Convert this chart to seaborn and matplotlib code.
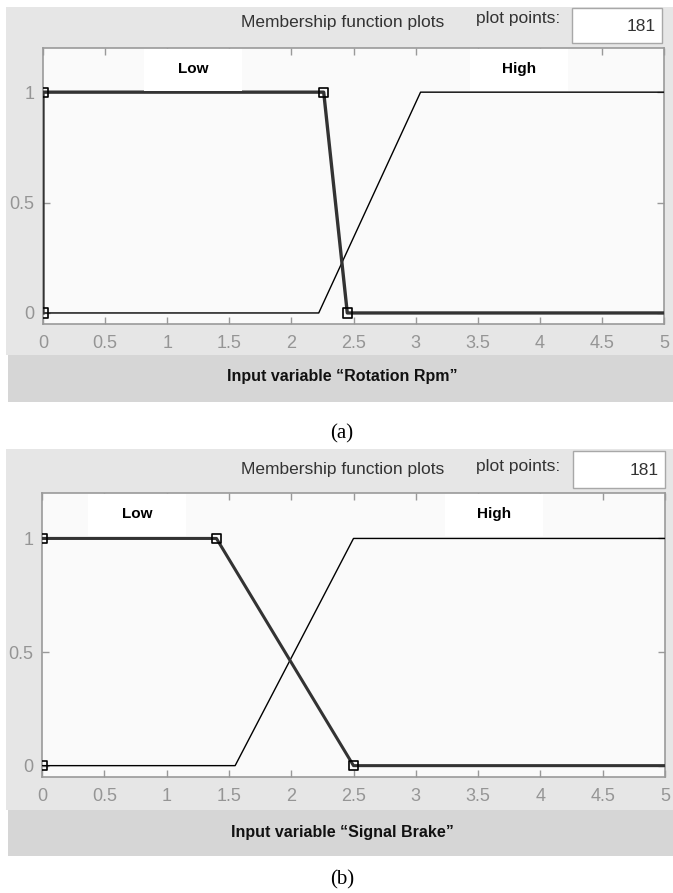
import matplotlib
matplotlib.use("Agg")
import matplotlib.pyplot as plt
from matplotlib.patches import Rectangle
from matplotlib import font_manager
import seaborn as sns

# ---------------- data ----------------
x_ticks = [0, 0.5, 1, 1.5, 2, 2.5, 3, 3.5, 4, 4.5, 5]
x_tick_labels = ["0", "0.5", "1", "1.5", "2", "2.5", "3", "3.5", "4", "4.5", "5"]
y_ticks = [0, 0.5, 1]
y_tick_labels = ["0", "0.5", "1"]

# (a) Rotation Rpm
low_a_x = [0, 0, 2.26, 2.45, 5]
low_a_y = [0, 1, 1, 0, 0]
high_a_x = [0, 2.22, 3.04, 5]
high_a_y = [0, 0, 1, 1]
mark_a_x = [0, 0, 2.26, 2.45]
mark_a_y = [0, 1, 1, 0]

# (b) Signal Brake
low_b_x = [0, 1.4, 2.5, 5]
low_b_y = [1, 1, 0, 0]
high_b_x = [0, 1.55, 2.5, 5]
high_b_y = [0, 0, 1, 1]
mark_b_x = [0, 0, 1.4, 2.5]
mark_b_y = [0, 1, 1, 0]

mf_names = ["Low", "High"]
header_text = "Membership function plots"
points_label = "plot points:"
points_value = "181"
xlabels = ["Input variable \u201cRotation Rpm\u201d", "Input variable \u201cSignal Brake\u201d"]
captions = ["(a)", "(b)"]

# ---------------- style ----------------
names = {f.name for f in font_manager.fontManager.ttflist}
narrow = "Liberation Sans Narrow" if "Liberation Sans Narrow" in names else "Liberation Sans"
plt.rcParams["font.family"] = [narrow, "DejaVu Sans"]

W, H = 673, 893
fig = plt.figure(figsize=(W / 100, H / 100), dpi=100)
fig.patch.set_facecolor("white")


def fx(x):
    return x / W


def fy(y):
    return 1 - y / H


def add_rect(x0, y0, x1, y1, fc, ec="none", lw=0, z=-5):
    r = Rectangle((fx(x0), fy(y1)), (x1 - x0) / W, (y1 - y0) / H,
                  transform=fig.transFigure, facecolor=fc, edgecolor=ec,
                  linewidth=lw, zorder=z)
    fig.patches.append(r)


panels = [
    dict(frame=(6, 7, 673, 355), band=(8, 355, 673, 402), ax=(43, 48, 664, 324),
         header_y=22, pts_y=19, box=(572, 8, 662, 43), low_box=(144, 242), high_box=(470, 568),
         xlab_y=377, cap_y=434,
         low=(low_a_x, low_a_y), high=(high_a_x, high_a_y), mark=(mark_a_x, mark_a_y),
         low_lw=2.4),
    dict(frame=(6, 449, 673, 810), band=(8, 810, 673, 856), ax=(42, 493, 665, 777),
         header_y=469, pts_y=466, box=(573, 451, 665, 488), low_box=(88, 186), high_box=(445, 543),
         xlab_y=832, cap_y=880,
         low=(low_b_x, low_b_y), high=(high_b_x, high_b_y), mark=(mark_b_x, mark_b_y),
         low_lw=2.2),
]

for i, p in enumerate(panels):
    add_rect(*p["frame"], fc="#e6e6e6")
    add_rect(*p["band"], fc="#d6d6d6")

    x0, y0, x1, y1 = p["ax"]
    ax = fig.add_axes([fx(x0), fy(y1), (x1 - x0) / W, (y1 - y0) / H])
    ax.set_facecolor("#fafafa")

    hx, hy = p["high"]
    sns.lineplot(x=hx, y=hy, ax=ax, sort=False, estimator=None, color="black",
                 linewidth=1.0, zorder=3)
    lx, ly = p["low"]
    sns.lineplot(x=lx, y=ly, ax=ax, sort=False, estimator=None, color="#333333",
                 linewidth=p["low_lw"], zorder=4)
    mx, my = p["mark"]
    sns.scatterplot(x=mx, y=my, ax=ax, marker="s", s=45, facecolor="none",
                    edgecolor="black", linewidth=1.2, zorder=5)

    ax.set_xlim(0, 5)
    ax.set_ylim(-0.05, 1.2)
    ax.set_xticks(x_ticks)
    ax.set_xticklabels(x_tick_labels)
    ax.set_yticks(y_ticks)
    ax.set_yticklabels(y_tick_labels)
    ax.tick_params(axis="both", direction="in", length=5, width=1, color="#999999",
                   labelcolor="#959595", labelsize=13, top=True, right=True)
    ax.tick_params(axis="x", pad=8)
    ax.tick_params(axis="y", pad=6)
    for s in ax.spines.values():
        s.set_color("#9a9a9a")
        s.set_linewidth(1.2)
    ax.set_xlabel("")
    ax.set_ylabel("")

    # MF name boxes
    for name, (bx0, bx1) in zip(mf_names, [p["low_box"], p["high_box"]]):
        add_rect(bx0, y0 + 1, bx1, y0 + 43, fc="white", z=2)
        fig.text(fx((bx0 + bx1) / 2), fy(y0 + 21), name, ha="center", va="center",
                 fontsize=11, fontweight="bold", color="black",
                 family=["Liberation Sans", "DejaVu Sans"], zorder=3)

    # header
    fig.text(fx(343), fy(p["header_y"]), header_text, ha="center", va="center",
             fontsize=12.5, color="#333333")
    fig.text(fx(518), fy(p["pts_y"]), points_label, ha="center", va="center",
             fontsize=12.5, color="#333333")
    bx0, by0, bx1, by1 = p["box"]
    add_rect(bx0, by0, bx1, by1, fc="white", ec="#a8a8a8", lw=1.0, z=2)
    fig.text(fx(bx1 - 6), fy((by0 + by1) / 2 + 1), points_value, ha="right", va="center",
             fontsize=12.5, color="#333333", zorder=3)

    # x label band text
    fig.text(fx(342), fy(p["xlab_y"]), xlabels[i], ha="center", va="center",
             fontsize=11.5, fontweight="bold", color="#111111")

    # caption
    fig.text(fx(342), fy(p["cap_y"]), captions[i], ha="center", va="center",
             fontsize=15, color="black", family=["Liberation Serif", "DejaVu Serif"])

fig.savefig("out.png", dpi=100, facecolor="white")
